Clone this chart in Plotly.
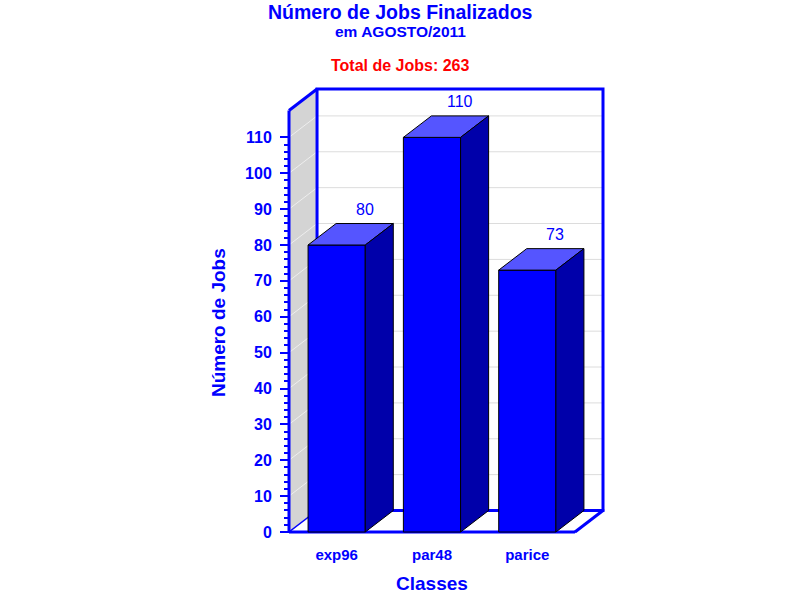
import plotly.graph_objects as go

# --- data ---
classes = ["exp96", "par48", "parice"]
jobs = [80, 110, 73]
y_ticks = list(range(0, 111, 10))
y_minor = [v for v in range(0, 111, 2) if v % 10]
title_main = "Número de Jobs Finalizados"
title_sub = "em AGOSTO/2011"
total_text = "Total de Jobs: %d" % sum(jobs)
x_title = "Classes"
y_title = "Número de Jobs"

# --- style ---
BLUE = "#0000FF"
TOP = "#5555FF"
SIDE = "#0000AA"
WALL = "#D4D4D4"
GRID = "#DCDCDC"
FONT = "Liberation Sans, Arial, sans-serif"

# --- fake 3D box geometry (pixels) ---
W, H = 800, 600
XPX = 95.2          # px per category
YPX = 3.59          # px per job
FRONT_LEFT = 289    # px of the front y axis
FRONT_BOTTOM = 532  # px of the front floor edge
DX = 28 / XPX       # depth, in data units
DY = 21.5 / YPX
YMAX = 117.5        # top of the front axis
BAR_W = 0.6
PAD = 4

n = len(classes)
xs = list(range(n))
x0 = -0.5 - PAD / XPX
x1 = n - 0.5 + DX + PAD / XPX
y0 = -PAD / YPX
y1 = YMAX + DY + PAD / YPX
plot_w = (x1 - x0) * XPX
plot_h = (y1 - y0) * YPX
ml = FRONT_LEFT - PAD
mb = H - FRONT_BOTTOM - PAD
mr = W - ml - plot_w
mt = H - mb - plot_h


def paper_x(px):
    return (px - ml) / plot_w


def paper_y(py):
    return (H - mb - py) / plot_h


xl, xr = -0.5, n - 0.5
shapes = []
# back wall
shapes.append(dict(type="rect", x0=xl + DX, x1=xr + DX, y0=DY, y1=YMAX + DY,
                   fillcolor="white", line=dict(width=0), layer="below"))
for v in y_ticks[1:]:
    shapes.append(dict(type="line", x0=xl + DX, x1=xr + DX, y0=v + DY, y1=v + DY,
                       line=dict(color=GRID, width=1), layer="below"))
# left wall
shapes.append(dict(type="path",
                   path=f"M{xl},0 L{xl + DX},{DY} L{xl + DX},{YMAX + DY} L{xl},{YMAX} Z",
                   fillcolor=WALL, line=dict(width=0), layer="below"))
for v in y_ticks[1:]:
    shapes.append(dict(type="line", x0=xl, x1=xl + DX, y0=v, y1=v + DY,
                       line=dict(color="#EEEEEE", width=1), layer="below"))
# floor
shapes.append(dict(type="path",
                   path=f"M{xl},0 L{xr},0 L{xr + DX},{DY} L{xl + DX},{DY} Z",
                   fillcolor="white", line=dict(color=BLUE, width=1.5), layer="below"))
# borders
shapes.append(dict(type="rect", x0=xl + DX, x1=xr + DX, y0=DY, y1=YMAX + DY,
                   line=dict(color=BLUE, width=3), layer="below"))
shapes.append(dict(type="line", x0=xl, x1=xl, y0=0, y1=YMAX,
                   line=dict(color=BLUE, width=3), layer="below"))
shapes.append(dict(type="line", x0=xl, x1=xl + DX, y0=YMAX, y1=YMAX + DY,
                   line=dict(color=BLUE, width=3), layer="below"))
shapes.append(dict(type="line", x0=xl, x1=xr, y0=0, y1=0,
                   line=dict(color=BLUE, width=3), layer="below"))
shapes.append(dict(type="line", x0=xr, x1=xr + DX, y0=0, y1=DY,
                   line=dict(color=BLUE, width=3), layer="below"))

fig = go.Figure()
fig.add_trace(go.Bar(x=xs, y=jobs, width=BAR_W, marker=dict(color=BLUE, line=dict(color="black", width=1)),
                     hovertext=classes, hoverinfo="text+y"))

h = BAR_W / 2
for i, v in zip(xs, jobs):
    # top face
    fig.add_trace(go.Scatter(x=[i - h, i + h, i + h + DX, i - h + DX, i - h],
                             y=[v, v, v + DY, v + DY, v],
                             fill="toself", fillcolor=TOP, mode="lines",
                             line=dict(color="black", width=1), hoverinfo="skip"))
    # side face
    fig.add_trace(go.Scatter(x=[i + h, i + h + DX, i + h + DX, i + h, i + h],
                             y=[0, DY, v + DY, v, 0],
                             fill="toself", fillcolor=SIDE, mode="lines",
                             line=dict(color="black", width=1), hoverinfo="skip"))

annotations = [
    dict(text=title_main, x=paper_x(400), y=paper_y(12), font=dict(size=19.5, color=BLUE, weight="bold")),
    dict(text=title_sub, x=paper_x(400), y=paper_y(31), font=dict(size=15.5, color=BLUE, weight="bold")),
    dict(text=total_text, x=paper_x(400), y=paper_y(65), font=dict(size=16, color="#FF0000", weight="bold")),
    dict(text=y_title, x=paper_x(218), y=paper_y(322), textangle=-90,
         font=dict(size=19, color=BLUE, weight="bold")),
]
for a in annotations:
    a.update(xref="paper", yref="paper", showarrow=False, xanchor="center", yanchor="middle")
annotations.append(dict(text=x_title, x=1, xref="x", y=paper_y(584), yref="paper", showarrow=False,
                        xanchor="center", yanchor="middle", font=dict(size=19, color=BLUE, weight="bold")))
for i, v in zip(xs, jobs):
    annotations.append(dict(text=str(v), x=i + DX, y=v + DY, xref="x", yref="y", yshift=14,
                            showarrow=False, xanchor="center", yanchor="middle",
                            font=dict(size=16, color=BLUE)))

fig.update_layout(
    width=W, height=H,
    margin=dict(l=ml, r=mr, t=mt, b=mb, pad=0),
    paper_bgcolor="white", plot_bgcolor="white",
    font=dict(family=FONT, color=BLUE),
    showlegend=False,
    shapes=shapes,
    annotations=annotations,
    xaxis=dict(range=[x0, x1], tickvals=xs, ticktext=classes, ticks="", showline=False,
               showgrid=False, zeroline=False, ticklabelstandoff=8,
               tickfont=dict(size=15, color=BLUE, weight="bold")),
    yaxis=dict(range=[y0, y1], tickvals=y_ticks, ticks="outside", ticklen=9, tickwidth=2,
               tickcolor=BLUE, showline=False, showgrid=False, zeroline=False,
               anchor="free", position=paper_x(FRONT_LEFT), ticklabelstandoff=5,
               tickfont=dict(size=16, color=BLUE, weight="bold"),
               minor=dict(tickvals=y_minor, ticks="outside", ticklen=5, tickwidth=1.5,
                          tickcolor=BLUE, showgrid=False)),
)

# drop the default page margin so the figure sits at the window's corner
fig.write_html("out.html", config={"displayModeBar": False},
               post_script="document.body.style.margin = '0';")
